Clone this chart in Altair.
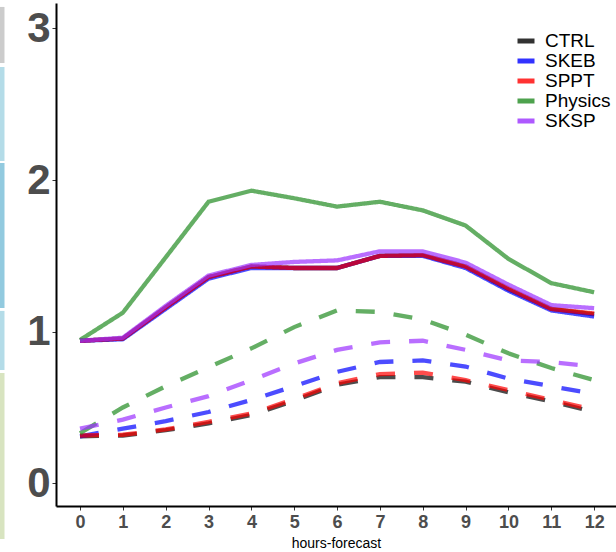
import altair as alt
import pandas as pd

hours = list(range(13))
series = ["CTRL", "SKEB", "SPPT", "Physics", "SKSP"]
colors = ["#000000", "#0000FF", "#FF0000", "#228B22", "#9B30FF"]

solid = {
    "CTRL":    [0.94, 0.955, 1.16, 1.36, 1.43, 1.42, 1.42, 1.50, 1.505, 1.43, 1.28, 1.15, 1.115],
    "SKEB":    [0.94, 0.95, 1.15, 1.35, 1.42, 1.42, 1.42, 1.50, 1.50, 1.42, 1.27, 1.14, 1.10],
    "SPPT":    [0.94, 0.955, 1.16, 1.36, 1.43, 1.42, 1.42, 1.50, 1.505, 1.43, 1.285, 1.15, 1.12],
    "Physics": [0.945, 1.125, 1.49, 1.857, 1.93, 1.88, 1.825, 1.857, 1.80, 1.70, 1.48, 1.32, 1.26],
    "SKSP":    [0.94, 0.96, 1.17, 1.37, 1.44, 1.46, 1.47, 1.53, 1.53, 1.455, 1.31, 1.175, 1.155],
}
dashed = {
    "CTRL":    [0.31, 0.315, 0.35, 0.395, 0.45, 0.545, 0.65, 0.70, 0.70, 0.67, 0.60, 0.54, 0.47],
    "SKEB":    [0.31, 0.36, 0.41, 0.47, 0.55, 0.64, 0.735, 0.80, 0.81, 0.77, 0.69, 0.64, 0.59],
    "SPPT":    [0.315, 0.32, 0.355, 0.405, 0.46, 0.555, 0.66, 0.72, 0.73, 0.68, 0.615, 0.55, 0.485],
    "Physics": [0.33, 0.50, 0.64, 0.765, 0.89, 1.03, 1.14, 1.13, 1.08, 0.98, 0.857, 0.76, 0.68],
    "SKSP":    [0.36, 0.42, 0.50, 0.575, 0.68, 0.79, 0.88, 0.93, 0.94, 0.88, 0.81, 0.80, 0.77],
}

# decorative side strips (value ranges on the y scale)
strip_y0 = [3.142, 2.746, 2.113, 1.137, 0.728]
strip_y1 = [2.772, 2.126, 1.156, 0.747, -0.367]
strip_col = ["#cccccc", "#b4dce8", "#92cadf", "#b4dce8", "#d8e4c0"]

rows = []
for si, s in enumerate(series):
    for kind, src in (("solid", solid), ("dashed", dashed)):
        for h, v in zip(hours, src[s]):
            rows.append({"hour": h, "value": v, "series": s, "kind": kind, "ord": si})
df = pd.DataFrame(rows)
strips = pd.DataFrame({"y0": strip_y0, "y1": strip_y1, "c": strip_col})

FONT = "Liberation Sans"
xscale = alt.Scale(domain=[-0.56, 12.51], nice=False, zero=False)
yscale = alt.Scale(domain=[-0.15, 3.168], nice=False, zero=False)

lines = alt.Chart(df).mark_line(strokeWidth=4.3, opacity=0.7).encode(
    x=alt.X("hour:Q", scale=xscale, title="hours-forecast",
            axis=alt.Axis(values=hours, format="d", labelFontSize=18, labelFontWeight="bold",
                          labelColor="#4d4d4d", tickSize=4, tickColor="#333333", labelPadding=3,
                          titleFontSize=14, titleFontWeight="normal", titleColor="#000000",
                          titlePadding=5, domainColor="#000000", domainWidth=2,
                          labelFont=FONT, titleFont=FONT, grid=False)),
    y=alt.Y("value:Q", scale=yscale, title=None,
            axis=alt.Axis(values=[0, 1, 2, 3], format="d", labelFontSize=42, labelFontWeight="bold",
                          labelColor="#4d4d4d", tickSize=4, tickColor="#333333", labelPadding=2,
                          domainColor="#000000", domainWidth=2, labelFont=FONT, grid=False)),
    color=alt.Color("series:N", scale=alt.Scale(domain=series, range=colors),
                    sort=series,
                    legend=alt.Legend(title=None, orient="none", legendX=459, legendY=29,
                                      symbolType="stroke", symbolStrokeWidth=5, symbolSize=289,
                                      symbolOpacity=0.8, labelFontSize=19, labelFont=FONT,
                                      labelColor="#000000", labelOffset=8, rowPadding=1,
                                      clipHeight=18)),
    strokeDash=alt.StrokeDash("kind:N", scale=alt.Scale(domain=["solid", "dashed"],
                                                         range=[[1, 0], [19, 19]]), legend=None),
    order=alt.Order("hour:Q"),
)

side = alt.Chart(strips).mark_rect().encode(
    x=alt.value(-56), x2=alt.value(-51.5),
    y=alt.Y("y0:Q", scale=yscale), y2="y1:Q",
    fill=alt.Fill("c:N", scale=None),
)

chart = alt.layer(side, lines).properties(
    width=560, height=503,
    autosize=alt.AutoSizeParams(type="none"),
    padding={"left": 56, "top": 3, "right": 0, "bottom": 46},
    background="#ffffff",
).configure_view(stroke=None)

chart.save("out.html", embed_options={"renderer": "svg", "actions": False})
